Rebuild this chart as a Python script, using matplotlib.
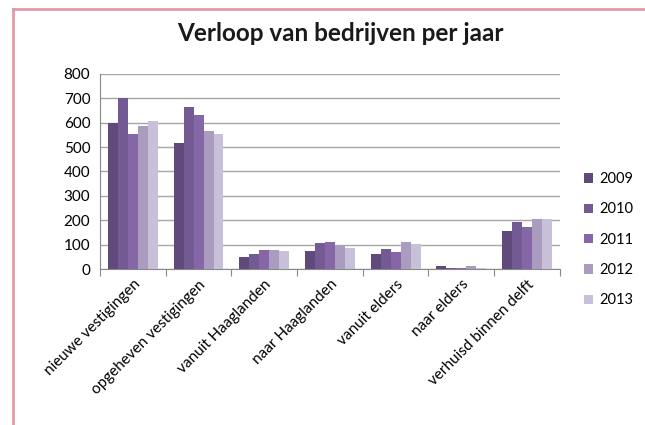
import numpy as np
import matplotlib.pyplot as plt
from matplotlib.lines import Line2D

# Categories and yearly counts
categories = ["nieuwe vestigingen", "opgeheven vestigingen", "vanuit Haaglanden",
              "naar Haaglanden", "vanuit elders", "naar elders", "verhuisd binnen delft"]
years = ["2009", "2010", "2011", "2012", "2013"]
v2009 = [600, 517, 50, 72, 63, 14, 156]
v2010 = [703, 663, 61, 105, 83, 5, 191]
v2011 = [554, 631, 76, 109, 68, 5, 173]
v2012 = [588, 568, 78, 93, 111, 14, 205]
v2013 = [607, 554, 75, 86, 102, 4, 206]
series = [v2009, v2010, v2011, v2012, v2013]
colors = ["#5f4a7b", "#735a93", "#8567a7", "#a99cbf", "#c8c0d9"]

plt.rcParams['font.family'] = ['Lato', 'DejaVu Sans']

fig = plt.figure(figsize=(6.45, 4.25), dpi=100)
ax = fig.add_axes([0.155, 0.367, 0.713, 0.459])

x = np.arange(len(categories))
w = 0.152
for i, (vals, c) in enumerate(zip(series, colors)):
    ax.bar(x + (i - 2) * w, vals, width=w, color=c, label=years[i], zorder=3)

ax.set_xlim(-0.5, len(categories) - 0.5)
ax.set_ylim(0, 800)
ax.set_yticks(range(0, 801, 100))
ax.yaxis.grid(True, color="#a6a6a6", linewidth=1, zorder=0)
ax.tick_params(axis="y", length=0, labelsize=11, pad=7)

# ticks sit between the groups, labels at group centres
ax.set_xticks(np.arange(-0.5, len(categories)), minor=False)
ax.set_xticklabels([])
ax.set_xticks(x, minor=True)
ax.set_xticklabels(categories, minor=True, rotation=45, ha="right",
                   rotation_mode="anchor", fontsize=11)
ax.tick_params(axis="x", which="major", length=5, color="#888888")
ax.tick_params(axis="x", which="minor", length=0, pad=6)

for s in ["top", "right"]:
    ax.spines[s].set_visible(False)
ax.spines["left"].set_color("#888888")
ax.spines["bottom"].set_color("#888888")

fig.text(0.527, 0.922, "Verloop van bedrijven per jaar", ha="center", va="center",
         fontsize=17.5, fontweight="bold", color="#1a1a1a")

ax.legend(loc="center left", bbox_to_anchor=(1.025, 0.15), frameon=False,
          fontsize=10.5, handlelength=0.6, handleheight=0.6, labelspacing=1.12,
          handletextpad=0.4)

# pink frame lines on the top and left
fig.add_artist(Line2D([0.02, 1.0], [0.979, 0.979], color="#e39aa9", linewidth=2,
                      transform=fig.transFigure))
fig.add_artist(Line2D([0.02, 0.02], [0.0, 0.979], color="#e39aa9", linewidth=2,
                      transform=fig.transFigure))

fig.savefig("out.png", dpi=100)
